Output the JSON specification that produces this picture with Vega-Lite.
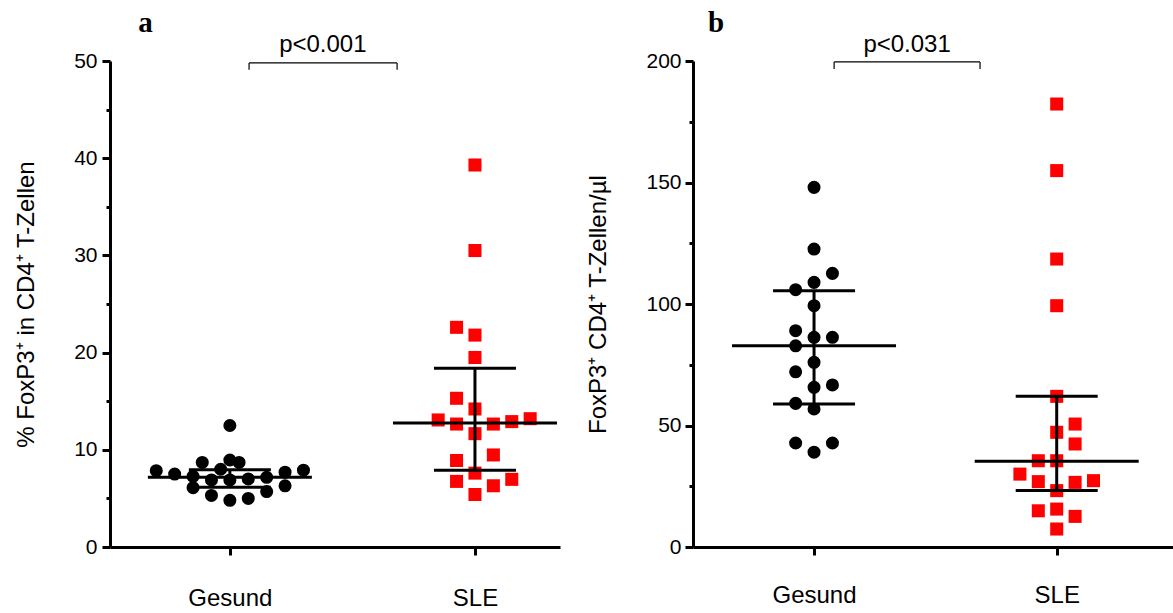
{
  "$schema": "https://vega.github.io/schema/vega-lite/v6.json",
  "background": "white",
  "padding": {"left": 14, "top": 8, "right": 0, "bottom": 0},
  "spacing": 26,
  "config": {
    "font": "Liberation Sans",
    "view": {"stroke": null},
    "axis": {
      "domainColor": "black", "domainWidth": 3, "tickColor": "black", "tickWidth": 3,
      "labelColor": "black", "titleColor": "black", "grid": false,
      "labelFont": "Liberation Sans", "titleFont": "Liberation Sans", "titleFontWeight": "normal"
    }
  },
  "datasets": {
    "pct": [
      {"group": "Gesund", "value": 12.5, "slot": 0},
      {"group": "Gesund", "value": 8.95, "slot": 0},
      {"group": "Gesund", "value": 8.7, "slot": 1},
      {"group": "Gesund", "value": 8.7, "slot": -3},
      {"group": "Gesund", "value": 8.0, "slot": -1},
      {"group": "Gesund", "value": 7.85, "slot": -8},
      {"group": "Gesund", "value": 7.5, "slot": -6},
      {"group": "Gesund", "value": 7.9, "slot": 8},
      {"group": "Gesund", "value": 7.7, "slot": 6},
      {"group": "Gesund", "value": 7.27, "slot": -4},
      {"group": "Gesund", "value": 7.17, "slot": 4},
      {"group": "Gesund", "value": 6.9, "slot": -2},
      {"group": "Gesund", "value": 6.9, "slot": 0},
      {"group": "Gesund", "value": 7.0, "slot": 2},
      {"group": "Gesund", "value": 6.1, "slot": -4},
      {"group": "Gesund", "value": 6.3, "slot": 6},
      {"group": "Gesund", "value": 5.7, "slot": 4},
      {"group": "Gesund", "value": 5.3, "slot": -2},
      {"group": "Gesund", "value": 4.8, "slot": 0},
      {"group": "Gesund", "value": 5.0, "slot": 2},
      {"group": "SLE", "value": 39.3, "slot": 0},
      {"group": "SLE", "value": 30.5, "slot": 0},
      {"group": "SLE", "value": 22.6, "slot": -2},
      {"group": "SLE", "value": 21.8, "slot": 0},
      {"group": "SLE", "value": 19.5, "slot": 0},
      {"group": "SLE", "value": 15.3, "slot": -2},
      {"group": "SLE", "value": 14.2, "slot": 0},
      {"group": "SLE", "value": 13.07, "slot": -4},
      {"group": "SLE", "value": 12.65, "slot": -2},
      {"group": "SLE", "value": 12.65, "slot": 2},
      {"group": "SLE", "value": 12.9, "slot": 4},
      {"group": "SLE", "value": 13.2, "slot": 6},
      {"group": "SLE", "value": 11.66, "slot": 0},
      {"group": "SLE", "value": 9.47, "slot": 2},
      {"group": "SLE", "value": 8.9, "slot": -2},
      {"group": "SLE", "value": 7.6, "slot": 0},
      {"group": "SLE", "value": 6.75, "slot": -2},
      {"group": "SLE", "value": 6.3, "slot": 2},
      {"group": "SLE", "value": 6.96, "slot": 4},
      {"group": "SLE", "value": 5.4, "slot": 0}
    ],
    "pct_stats": [
      {"group": "Gesund", "median": 7.17, "lo": 6.14, "hi": 7.95},
      {"group": "SLE", "median": 12.76, "lo": 7.9, "hi": 18.4}
    ],
    "pct_notes": [
      {"x1": 0.309, "x2": 0.638, "y1": 49.8, "y2": 49.8},
      {"x1": 0.309, "x2": 0.309, "y1": 49.8, "y2": 49.1},
      {"x1": 0.638, "x2": 0.638, "y1": 49.8, "y2": 49.1}
    ],
    "pct_p": [{"x": 0.473, "y": 50.9, "label": "p<0.001"}],
    "pct_panel": [{"x": 0.079, "y": 53.0, "label": "a"}],
    "abs": [
      {"group": "Gesund", "value": 148, "slot": 0},
      {"group": "Gesund", "value": 122.6, "slot": 0},
      {"group": "Gesund", "value": 112.6, "slot": 2},
      {"group": "Gesund", "value": 108.9, "slot": 0},
      {"group": "Gesund", "value": 105.9, "slot": -2},
      {"group": "Gesund", "value": 99.3, "slot": 0},
      {"group": "Gesund", "value": 89, "slot": -2},
      {"group": "Gesund", "value": 86.3, "slot": 0},
      {"group": "Gesund", "value": 86.3, "slot": 2},
      {"group": "Gesund", "value": 82.8, "slot": -2},
      {"group": "Gesund", "value": 76, "slot": 0},
      {"group": "Gesund", "value": 72.1, "slot": -2},
      {"group": "Gesund", "value": 66.7, "slot": 2},
      {"group": "Gesund", "value": 65.7, "slot": 0},
      {"group": "Gesund", "value": 59.1, "slot": -2},
      {"group": "Gesund", "value": 56.8, "slot": 0},
      {"group": "Gesund", "value": 42.8, "slot": -2},
      {"group": "Gesund", "value": 42.8, "slot": 2},
      {"group": "Gesund", "value": 39, "slot": 0},
      {"group": "SLE", "value": 182.3, "slot": 0},
      {"group": "SLE", "value": 154.9, "slot": 0},
      {"group": "SLE", "value": 118.5, "slot": 0},
      {"group": "SLE", "value": 99.3, "slot": 0},
      {"group": "SLE", "value": 62.0, "slot": 0},
      {"group": "SLE", "value": 50.6, "slot": 2},
      {"group": "SLE", "value": 47.2, "slot": 0},
      {"group": "SLE", "value": 42.4, "slot": 2},
      {"group": "SLE", "value": 35.5, "slot": -2},
      {"group": "SLE", "value": 35.5, "slot": 0},
      {"group": "SLE", "value": 30.0, "slot": -4},
      {"group": "SLE", "value": 26.9, "slot": -2},
      {"group": "SLE", "value": 26.6, "slot": 2},
      {"group": "SLE", "value": 27.3, "slot": 4},
      {"group": "SLE", "value": 23.2, "slot": 0},
      {"group": "SLE", "value": 14.9, "slot": -2},
      {"group": "SLE", "value": 15.6, "slot": 0},
      {"group": "SLE", "value": 12.6, "slot": 2},
      {"group": "SLE", "value": 7.4, "slot": 0}
    ],
    "abs_stats": [
      {"group": "Gesund", "median": 82.8, "lo": 58.8, "hi": 105.5},
      {"group": "SLE", "median": 35.3, "lo": 23.3, "hi": 62.0}
    ],
    "abs_notes": [
      {"x1": 0.294, "x2": 0.598, "y1": 199.6, "y2": 199.6},
      {"x1": 0.294, "x2": 0.294, "y1": 199.6, "y2": 196.7},
      {"x1": 0.598, "x2": 0.598, "y1": 199.6, "y2": 196.7}
    ],
    "abs_p": [{"x": 0.446, "y": 203.7, "label": "p<0.031"}],
    "abs_panel": [{"x": 0.048, "y": 211.9, "label": "b"}]
  },
  "hconcat": [
    {
      "width": 450,
      "height": 486,
      "resolve": {"scale": {"x": "independent"}},
      "layer": [
        {
          "layer": [
            {
              "data": {"name": "pct"},
              "mark": {"type": "point", "filled": true, "opacity": 1, "size": 170},
              "encoding": {
                "x": {"field": "group", "type": "nominal",
                  "scale": {"type": "point", "domain": ["Gesund", "SLE"], "padding": 0.418, "align": 0.585},
                  "axis": {"title": null, "labelFontSize": 24, "labelPadding": 31, "tickSize": 8, "labelAngle": 0}},
                "xOffset": {"field": "slot", "type": "quantitative", "scale": {"domain": [-10, 10], "range": [-92, 92]}},
                "y": {"field": "value", "type": "quantitative",
                  "scale": {"domain": [0, 50], "nice": false},
                  "axis": {"title": "% FoxP3⁺ in CD4⁺ T-Zellen", "titleFontSize": 24, "labelFontSize": 21,
                    "values": [0, 5, 10, 15, 20, 25, 30, 35, 40, 45, 50],
                    "labelExpr": "datum.value % 10 === 0 ? datum.label : ''",
                    "tickSize": {"condition": {"test": "datum.value % 10 === 0", "value": 8}, "value": 4},
                    "labelPadding": 5, "titlePadding": 35}},
                "shape": {"field": "group", "type": "nominal", "scale": {"domain": ["Gesund", "SLE"], "range": ["circle", "square"]}, "legend": null},
                "color": {"field": "group", "type": "nominal", "scale": {"domain": ["Gesund", "SLE"], "range": ["#000000", "#ff0000"]}, "legend": null}
              }
            },
            {
              "data": {"name": "pct_stats"},
              "mark": {"type": "rule", "color": "black", "strokeWidth": 3},
              "encoding": {"x": {"field": "group", "type": "nominal"}, "y": {"field": "lo", "type": "quantitative"}, "y2": {"field": "hi"}}
            },
            {
              "data": {"name": "pct_stats"},
              "mark": {"type": "tick", "color": "black", "thickness": 3, "size": 164, "opacity": 1},
              "encoding": {"x": {"field": "group", "type": "nominal"}, "y": {"field": "median", "type": "quantitative"}}
            },
            {
              "data": {"name": "pct_stats"},
              "mark": {"type": "tick", "color": "black", "thickness": 3, "size": 82, "opacity": 1},
              "encoding": {"x": {"field": "group", "type": "nominal"}, "y": {"field": "lo", "type": "quantitative"}}
            },
            {
              "data": {"name": "pct_stats"},
              "mark": {"type": "tick", "color": "black", "thickness": 3, "size": 82, "opacity": 1},
              "encoding": {"x": {"field": "group", "type": "nominal"}, "y": {"field": "hi", "type": "quantitative"}}
            }
          ]
        },
        {
          "layer": [
            {
              "data": {"name": "pct_notes"},
              "mark": {"type": "rule", "color": "black", "strokeWidth": 1.2},
              "encoding": {
                "x": {"field": "x1", "type": "quantitative", "scale": {"domain": [0, 1]}, "axis": null},
                "x2": {"field": "x2"},
                "y": {"field": "y1", "type": "quantitative"},
                "y2": {"field": "y2"}
              }
            },
            {
              "data": {"name": "pct_p"},
              "mark": {"type": "text", "align": "center", "baseline": "alphabetic", "color": "black", "font": "Liberation Sans", "fontSize": 24},
              "encoding": {
                "x": {"field": "x", "type": "quantitative", "axis": null},
                "y": {"field": "y", "type": "quantitative"},
                "text": {"field": "label"}
              }
            },
            {
              "data": {"name": "pct_panel"},
              "mark": {"type": "text", "align": "center", "baseline": "alphabetic", "color": "black", "font": "Liberation Serif", "fontWeight": "bold", "fontSize": 29},
              "encoding": {
                "x": {"field": "x", "type": "quantitative", "axis": null},
                "y": {"field": "y", "type": "quantitative"},
                "text": {"field": "label"}
              }
            }
          ]
        }
      ]
    },
    {
      "width": 480,
      "height": 486,
      "resolve": {"scale": {"x": "independent"}},
      "layer": [
        {
          "layer": [
            {
              "data": {"name": "abs"},
              "mark": {"type": "point", "filled": true, "opacity": 1, "size": 170},
              "encoding": {
                "x": {"field": "group", "type": "nominal",
                  "scale": {"type": "point", "domain": ["Gesund", "SLE"], "padding": 0.489, "align": 0.51},
                  "axis": {"title": null, "labelFontSize": 24, "labelPadding": 28, "tickSize": 8, "labelAngle": 0}},
                "xOffset": {"field": "slot", "type": "quantitative", "scale": {"domain": [-10, 10], "range": [-92, 92]}},
                "y": {"field": "value", "type": "quantitative",
                  "scale": {"domain": [0, 200], "nice": false},
                  "axis": {"title": "FoxP3⁺ CD4⁺ T-Zellen/µl", "titleFontSize": 24, "labelFontSize": 21,
                    "values": [0, 25, 50, 75, 100, 125, 150, 175, 200],
                    "labelExpr": "datum.value % 50 === 0 ? datum.label : ''",
                    "tickSize": {"condition": {"test": "datum.value % 50 === 0", "value": 8}, "value": 4},
                    "labelPadding": 4, "titlePadding": 35}},
                "shape": {"field": "group", "type": "nominal", "scale": {"domain": ["Gesund", "SLE"], "range": ["circle", "square"]}, "legend": null},
                "color": {"field": "group", "type": "nominal", "scale": {"domain": ["Gesund", "SLE"], "range": ["#000000", "#ff0000"]}, "legend": null}
              }
            },
            {
              "data": {"name": "abs_stats"},
              "mark": {"type": "rule", "color": "black", "strokeWidth": 3},
              "encoding": {"x": {"field": "group", "type": "nominal"}, "y": {"field": "lo", "type": "quantitative"}, "y2": {"field": "hi"}}
            },
            {
              "data": {"name": "abs_stats"},
              "mark": {"type": "tick", "color": "black", "thickness": 3, "size": 164, "opacity": 1},
              "encoding": {"x": {"field": "group", "type": "nominal"}, "y": {"field": "median", "type": "quantitative"}}
            },
            {
              "data": {"name": "abs_stats"},
              "mark": {"type": "tick", "color": "black", "thickness": 3, "size": 82, "opacity": 1},
              "encoding": {"x": {"field": "group", "type": "nominal"}, "y": {"field": "lo", "type": "quantitative"}}
            },
            {
              "data": {"name": "abs_stats"},
              "mark": {"type": "tick", "color": "black", "thickness": 3, "size": 82, "opacity": 1},
              "encoding": {"x": {"field": "group", "type": "nominal"}, "y": {"field": "hi", "type": "quantitative"}}
            }
          ]
        },
        {
          "layer": [
            {
              "data": {"name": "abs_notes"},
              "mark": {"type": "rule", "color": "black", "strokeWidth": 1.2},
              "encoding": {
                "x": {"field": "x1", "type": "quantitative", "scale": {"domain": [0, 1]}, "axis": null},
                "x2": {"field": "x2"},
                "y": {"field": "y1", "type": "quantitative"},
                "y2": {"field": "y2"}
              }
            },
            {
              "data": {"name": "abs_p"},
              "mark": {"type": "text", "align": "center", "baseline": "alphabetic", "color": "black", "font": "Liberation Sans", "fontSize": 24},
              "encoding": {
                "x": {"field": "x", "type": "quantitative", "axis": null},
                "y": {"field": "y", "type": "quantitative"},
                "text": {"field": "label"}
              }
            },
            {
              "data": {"name": "abs_panel"},
              "mark": {"type": "text", "align": "center", "baseline": "alphabetic", "color": "black", "font": "Liberation Serif", "fontWeight": "bold", "fontSize": 29},
              "encoding": {
                "x": {"field": "x", "type": "quantitative", "axis": null},
                "y": {"field": "y", "type": "quantitative"},
                "text": {"field": "label"}
              }
            }
          ]
        }
      ]
    }
  ]
}
